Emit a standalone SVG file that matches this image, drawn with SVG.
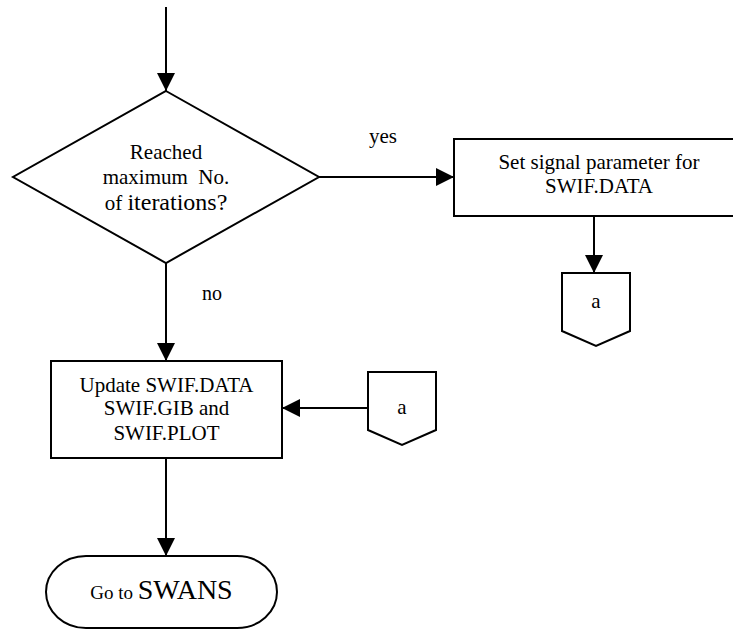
<svg xmlns="http://www.w3.org/2000/svg" width="733" height="631" viewBox="0 0 733 631">
<style>
.shape{fill:#fff;stroke:#000;stroke-width:2}
.edge{fill:none;stroke:#000;stroke-width:2;marker-end:url(#ah)}
text{font-family:"Liberation Serif","Times New Roman",serif;font-size:21px;fill:#000;text-anchor:middle}
</style>
<defs>
<marker id="ah" markerUnits="userSpaceOnUse" markerWidth="20" markerHeight="20" refX="18" refY="9" orient="auto">
<path d="M0,0 L18,9 L0,18 z" fill="#000"/>
</marker>
</defs>
<g id="connectors">
<line class="edge" x1="166" y1="7" x2="166" y2="91"/>
<line class="edge" x1="319" y1="177" x2="454" y2="177"/>
<line class="edge" x1="594" y1="216" x2="594" y2="273"/>
<line class="edge" x1="166" y1="263" x2="166" y2="361"/>
<line class="edge" x1="368" y1="408" x2="282" y2="408"/>
<line class="edge" x1="166" y1="458" x2="166" y2="556"/>
<text x="383" y="143">yes</text>
<text x="212" y="300" style="font-size:20px">no</text>
</g>
<g id="decision">
<polygon class="shape" points="166,91 319,177 166,263 13,177"/>
<text x="166" y="159">Reached</text>
<text x="166" y="184" xml:space="preserve">maximum  No.</text>
<text x="166" y="210"><tspan>of </tspan><tspan style="font-size:24px">iterations?</tspan></text>
</g>
<g id="set-signal">
<rect class="shape" x="454" y="139" width="290" height="77"/>
<text x="599" y="169">Set signal parameter for</text>
<text x="599" y="193">SWIF.DATA</text>
</g>
<g id="connector-a-out">
<polygon class="shape" points="562,273 630,273 630,331 596,346 562,331"/>
<text x="596" y="308">a</text>
</g>
<g id="update">
<rect class="shape" x="51" y="361" width="231" height="97"/>
<text x="166.5" y="392">Update SWIF.DATA</text>
<text x="166.5" y="415">SWIF.GIB and</text>
<text x="166.5" y="440">SWIF.PLOT</text>
</g>
<g id="connector-a-in">
<polygon class="shape" points="368,372 436,372 436,430 402,445 368,430"/>
<text x="402" y="414">a</text>
</g>
<g id="terminal">
<rect class="shape" x="46" y="556" width="231" height="72" rx="40" ry="36"/>
<text x="161.5" y="599"><tspan style="font-size:19px" xml:space="preserve">Go to </tspan><tspan style="font-size:28px">SWANS</tspan></text>
</g>
</svg>
